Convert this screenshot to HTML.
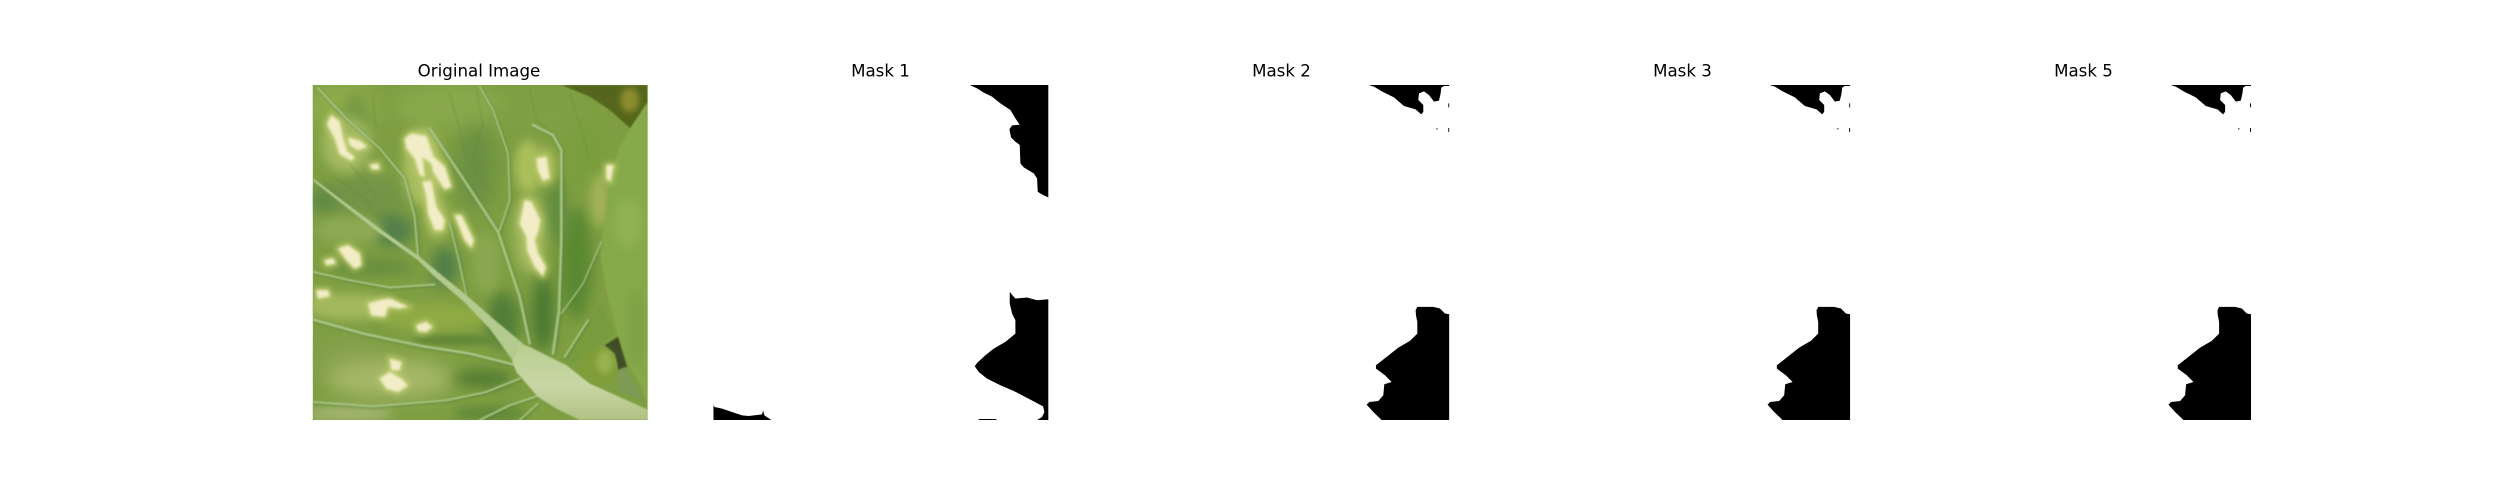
<!DOCTYPE html>
<html lang="en">
<head>
<meta charset="utf-8">
<title>Original Image and Masks</title>
<style>
html,body{margin:0;padding:0;background:#fff;width:2500px;height:500px;overflow:hidden}
svg{display:block}
text{font-family:"DejaVu Sans","Liberation Sans",sans-serif;font-size:16.67px;fill:#000;text-anchor:middle}
</style>
</head>
<body>
<svg id="figure" xmlns="http://www.w3.org/2000/svg" width="2500" height="500" viewBox="0 0 2500 500">
<defs>
<filter id="b30" x="-60%" y="-60%" width="220%" height="220%"><feGaussianBlur stdDeviation="28"/></filter>
<filter id="b20" x="-60%" y="-60%" width="220%" height="220%"><feGaussianBlur stdDeviation="20"/></filter>
<filter id="b14" x="-60%" y="-60%" width="220%" height="220%"><feGaussianBlur stdDeviation="14"/></filter>
<filter id="b8" x="-30%" y="-30%" width="160%" height="160%"><feGaussianBlur stdDeviation="9"/></filter>
<filter id="b4" x="-20%" y="-20%" width="140%" height="140%"><feGaussianBlur stdDeviation="4"/></filter>
<filter id="b2" x="-10%" y="-10%" width="120%" height="120%"><feGaussianBlur stdDeviation="2"/></filter>
<linearGradient id="stemGrad" x1="0" y1="0" x2="0" y2="1"><stop offset="0" stop-color="#b8cd8e"/><stop offset="0.55" stop-color="#c8d7a6"/><stop offset="1" stop-color="#b0c182"/></linearGradient>
<g id="spotShapes">
  <polygon points="112,222 125,195 150,215 160,265 172,302 195,322 185,332 150,312 135,265"/>
  <polygon points="175,262 210,272 232,290 205,300 180,285"/>
  <polygon points="240,345 265,340 270,357 248,358"/>
  <polygon points="345,265 365,250 410,258 432,320 465,350 485,410 465,418 430,365 425,340 398,322 405,380 390,375 375,325 350,295"/>
  <polygon points="398,395 425,392 440,470 465,510 460,540 435,540 415,490 410,440"/>
  <polygon points="495,495 515,495 552,570 545,592 525,570"/>
  <polygon points="690,520 705,450 725,455 752,510 745,545 735,570 745,610 768,650 760,678 735,650 712,600 710,560"/>
  <polygon points="740,325 770,320 780,385 760,392 745,360"/>
  <polygon points="950,345 972,345 962,395 950,385"/>
  <polygon points="145,595 175,585 210,610 215,645 195,655 170,630"/>
  <polygon points="105,630 130,625 138,640 110,645"/>
  <polygon points="235,760 270,750 300,745 355,770 330,775 295,770 285,800 245,795"/>
  <polygon points="80,720 115,720 120,738 85,745"/>
  <polygon points="380,825 410,815 428,830 410,845 385,842"/>
  <polygon points="300,925 335,935 330,960 305,960"/>
  <polygon points="270,985 300,965 335,985 355,1005 325,1025 290,1015"/>
</g>
<g id="veinPaths" fill="none" stroke-linecap="round" stroke-linejoin="round">
  <path d="M385 620 L375 500 L345 385 L270 295 L170 205 L85 115" stroke-width="6"/>
  <path d="M530 735 L505 620 L480 520" stroke-width="5"/>
  <path d="M720 880 L690 740 L650 620 L625 545 L530 400 L420 235" stroke-width="8"/>
  <path d="M630 540 L660 450 L655 310 L610 180 L570 110" stroke-width="5"/>
  <path d="M790 910 L808 780 L815 560 L815 300 L790 255 L730 225" stroke-width="8"/>
  <path d="M825 920 L895 810" stroke-width="6"/>
  <path d="M815 790 L880 700 L935 575" stroke-width="4"/>
  <path d="M435 703 L300 712 L180 690 L70 665" stroke-width="6"/>
  <path d="M680 945 L540 910 L400 888 L220 850 L70 808" stroke-width="8"/>
  <path d="M690 985 L590 1025 L470 1050 L250 1068 L70 1055" stroke-width="6"/>
  <path d="M750 1035 L660 1065 L570 1109" stroke-width="6"/>
  <path d="M745 1060 L690 1109" stroke-width="5"/>
</g>
</defs>
<text x="479" y="76.5">Original Image</text>
<text x="880.5" y="76.5">Mask 1</text>
<text x="1281.5" y="76.5">Mask 2</text>
<text x="1682.5" y="76.5">Mask 3</text>
<text x="2083.5" y="76.5">Mask 5</text>

<svg x="312.7" y="85" width="335" height="335" viewBox="69 105 1005 1004" preserveAspectRatio="none">
  <rect x="69" y="105" width="1005" height="1004" fill="#7f9e42"/>
  <g>
    <ellipse cx="160" cy="170" rx="110" ry="80" fill="#8fac4c" filter="url(#b30)"/>
    <ellipse cx="200" cy="200" rx="40" ry="70" fill="#769843" filter="url(#b20)"/>
    <ellipse cx="480" cy="170" rx="170" ry="70" fill="#89a84b" filter="url(#b30)"/>
    <ellipse cx="780" cy="190" rx="120" ry="70" fill="#80a045" filter="url(#b30)"/>
    <ellipse cx="230" cy="440" rx="120" ry="70" fill="#729447" filter="url(#b30)"/>
    <ellipse cx="560" cy="350" rx="60" ry="130" fill="#6a9042" filter="url(#b30)"/>
    <ellipse cx="310" cy="540" rx="60" ry="50" fill="#527f4a" filter="url(#b20)"/>
    <ellipse cx="100" cy="450" rx="50" ry="40" fill="#608a44" filter="url(#b20)"/>
    <ellipse cx="250" cy="650" rx="130" ry="22" fill="#628b3e" filter="url(#b20)"/>
    <ellipse cx="465" cy="650" rx="40" ry="60" fill="#4f7e48" filter="url(#b20)"/>
    <ellipse cx="640" cy="810" rx="50" ry="85" fill="#517e38" filter="url(#b20)"/>
    <ellipse cx="760" cy="790" rx="35" ry="115" fill="#4b7932" filter="url(#b20)"/>
    <ellipse cx="860" cy="640" rx="50" ry="170" fill="#5a8832" filter="url(#b20)"/>
    <ellipse cx="800" cy="480" rx="30" ry="100" fill="#5e8c40" filter="url(#b20)"/>
    <ellipse cx="890" cy="320" rx="60" ry="110" fill="#7a9e3e" filter="url(#b20)"/>
    <ellipse cx="590" cy="640" rx="40" ry="90" fill="#8aa750" filter="url(#b14)"/>
    <ellipse cx="180" cy="540" rx="100" ry="40" fill="#8ea952" filter="url(#b14)"/>
    <ellipse cx="180" cy="770" rx="130" ry="40" fill="#a2b85b" filter="url(#b14)"/>
    <ellipse cx="430" cy="800" rx="160" ry="40" fill="#8faa43" filter="url(#b14)"/>
    <ellipse cx="500" cy="870" rx="130" ry="16" fill="#628739" filter="url(#b8)"/>
    <ellipse cx="170" cy="920" rx="100" ry="50" fill="#87a150" filter="url(#b30)"/>
    <ellipse cx="300" cy="985" rx="190" ry="60" fill="#a5b768" filter="url(#b30)"/>
    <ellipse cx="580" cy="985" rx="90" ry="28" fill="#527d33" filter="url(#b20)"/>
    <ellipse cx="180" cy="1090" rx="130" ry="25" fill="#a0b36d" filter="url(#b14)"/>
    <ellipse cx="600" cy="1090" rx="110" ry="25" fill="#628939" filter="url(#b14)"/>
    <ellipse cx="715" cy="350" rx="40" ry="80" fill="#abbf5c" filter="url(#b14)"/>
    <ellipse cx="765" cy="350" rx="35" ry="60" fill="#a4b958" filter="url(#b14)"/>
    <ellipse cx="720" cy="550" rx="50" ry="120" fill="#9fb65b" filter="url(#b14)"/>
    <ellipse cx="930" cy="450" rx="28" ry="80" fill="#a3b258" filter="url(#b14)"/>
    <ellipse cx="170" cy="285" rx="75" ry="85" fill="#a0b75f" filter="url(#b14)"/>
    <ellipse cx="400" cy="350" rx="60" ry="120" fill="#a9bd61" filter="url(#b14)"/>
    <ellipse cx="440" cy="500" rx="35" ry="70" fill="#a2b85a" filter="url(#b14)"/>
  </g>
  <g fill="none" stroke="#5f8636" stroke-width="3" opacity="0.45" filter="url(#b2)">
    <path d="M560 120 L580 220 L550 310 L560 380 L620 440"/>
    <path d="M480 130 L510 240 L530 330"/>
    <path d="M720 120 L740 210 L790 250"/>
    <path d="M840 130 L870 220 L900 330"/>
    <path d="M130 380 L220 440 L300 560"/>
    <path d="M180 340 L260 440"/>
    <path d="M250 130 L258 240"/>
  </g>
  <g>
    <polygon points="815,105 1074,105 1074,160 1022,235 960,180 900,140" fill="#55661f" filter="url(#b2)"/>
    <ellipse cx="1020" cy="150" rx="28" ry="36" fill="#8b8c2f" filter="url(#b8)"/>
    <polygon points="1074,155 1074,1060 1055,1010 1020,950 985,860 950,720 930,600 950,500 955,400 990,290 1022,235" fill="#86a949" filter="url(#b2)"/>
    <ellipse cx="1015" cy="520" rx="40" ry="70" fill="#92b353" filter="url(#b14)"/>
    <ellipse cx="1040" cy="830" rx="28" ry="120" fill="#7ea245" filter="url(#b14)"/>
    <polygon points="945,885 985,860 1012,950 985,960 975,910" fill="#3f4d25" filter="url(#b2)"/>
    <polygon points="985,960 1012,950 1060,1050 985,1020" fill="#7f9a55" filter="url(#b4)"/>
    <polygon points="815,925 935,760 975,850 885,915 850,945" fill="#769c3e" filter="url(#b2)"/>
    <ellipse cx="925" cy="950" rx="58" ry="56" fill="#7f9d38" filter="url(#b2)"/>
    <ellipse cx="945" cy="935" rx="25" ry="35" fill="#98b24e" filter="url(#b8)"/>
  </g>
  <use href="#spotShapes" fill="#bccb6d" stroke="#bccb6d" stroke-width="14" filter="url(#b8)"/>
  <use href="#spotShapes" fill="#f2edc6" filter="url(#b4)"/>
  <use href="#veinPaths" stroke="#426f35" stroke-opacity="0.55" transform="translate(3 3)" filter="url(#b4)"/>
  <use href="#veinPaths" stroke="#a9c682" filter="url(#b2)"/>
  <polygon points="72,386 150,445 270,535 390,620 440,662 530,735 610,805 700,880 665,925 600,835 520,752 430,675 385,630 265,545 147,453 70,392" fill="#b4cb90" filter="url(#b2)"/>
  <polygon points="665,925 695,880 720,890 790,925 830,945 900,1000 1000,1045 1074,1078 1074,1109 870,1109 800,1075 745,1040 680,965" fill="url(#stemGrad)" filter="url(#b2)"/>
</svg>

<g id="mask-panels"></g>
</svg>
<script>
const panelLabels = ['mask-1', 'mask-2', 'mask-3', 'mask-5'];
const panelLeftEdges = [713.4, 1114.3, 1515.2, 1916.1];
const mask1Contours = [
  [[838,105],[860,115],[880,128],[905,140],[930,160],[960,180],[975,205],[988,224],[965,226],[957,238],[962,262],[975,275],[988,285],[990,340],[1000,352],[1030,370],[1040,385],[1042,425],[1055,433],[1074,442],[1074,105]],
  [[958,725],[966,735],[975,745],[1010,742],[1040,750],[1074,747],[1074,1109],[1040,1109],[1055,1100],[1062,1085],[1058,1068],[1020,1048],[970,1022],[930,1005],[890,985],[865,965],[853,948],[860,938],[885,915],[910,895],[945,875],[975,850],[975,810],[965,790],[958,760]],
  [[865,1106],[918,1106],[918,1109],[865,1109]],
  [[69,1062],[72,1070],[95,1075],[130,1087],[155,1095],[175,1097],[215,1092],[218,1080],[222,1095],[243,1109],[69,1109]]
];
const sharedMaskContours = [
  [[832,105],[848,110],[873,125],[908,142],[938,168],[973,178],[990,193],[996,185],[996,165],[981,150],[983,130],[998,124],[1013,135],[1028,155],[1043,152],[1048,130],[1050,113],[1058,108],[1074,108],[1074,105]],
  [[1071,160],[1074,160],[1074,172],[1071,172]],
  [[1071,234],[1074,234],[1074,246],[1071,246]],
  [[1035,235],[1039,235],[1039,238],[1035,238]],
  [[973,780],[978,770],[1026,770],[1046,775],[1061,790],[1074,792],[1074,1109],[871,1109],[846,1085],[826,1063],[834,1055],[861,1052],[876,1035],[879,1002],[901,995],[881,975],[854,955],[854,945],[886,920],[921,892],[956,872],[978,850],[978,815],[974,795]]
];
const panelContours = [mask1Contours, sharedMaskContours, sharedMaskContours, sharedMaskContours];

const SVG_NS = 'http://www.w3.org/2000/svg';
const mapX = function (v) { return v; };
const mapY = function (v) { return v; };
const host = document.getElementById('mask-panels');
panelLabels.forEach(function (label, i) {
  const panel = document.createElementNS(SVG_NS, 'svg');
  panel.setAttribute('x', panelLeftEdges[i]);
  panel.setAttribute('y', 85);
  panel.setAttribute('width', 335);
  panel.setAttribute('height', 335);
  panel.setAttribute('viewBox', '69 105 1005 1004');
  panel.setAttribute('preserveAspectRatio', 'none');
  
  
  panelContours[i].forEach(function (contour) {
    const region = document.createElementNS(SVG_NS, 'polygon');
    region.setAttribute('points', contour.map(function (p) { return mapX(p[0]) + ',' + mapY(p[1]); }).join(' '));
    region.setAttribute('fill', '#000');
    
    
    panel.appendChild(region);
  });
  host.appendChild(panel);
});
</script>
</body>
</html>
